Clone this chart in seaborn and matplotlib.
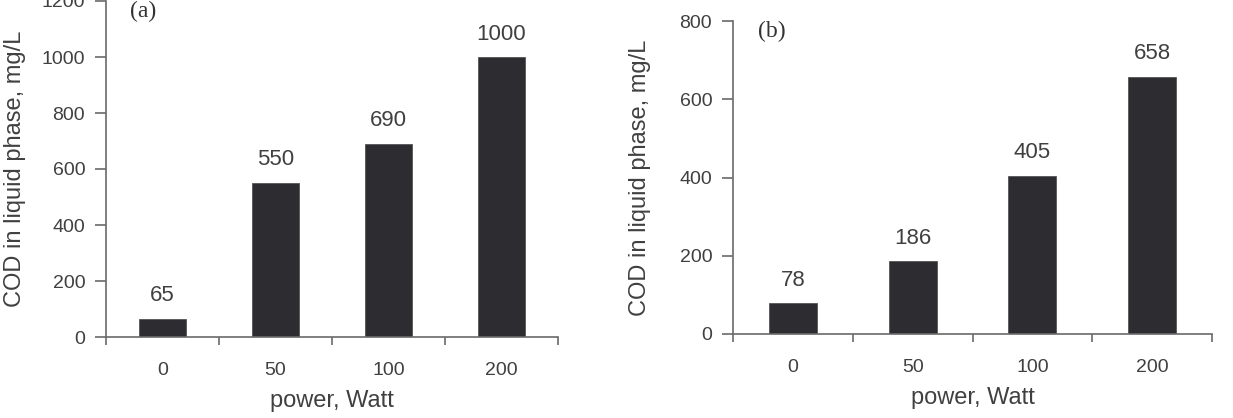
import matplotlib
matplotlib.use("Agg")
import matplotlib.pyplot as plt
import seaborn as sns
import pandas as pd
import numpy as np

power_labels = ["0", "50", "100", "200"]
cod_a = [65, 550, 690, 1000]
cod_b = [78, 186, 405, 658]

sns.set_theme(style="white")
plt.rcParams['font.family'] = ['Liberation Sans', 'DejaVu Sans']

text_color = "#404040"
spine_color = "#6a6a6a"
bar_color = "#2c2c31"

fig = plt.figure(figsize=(12.33, 4.18), dpi=100)
ax1 = fig.add_axes([106/1233, (418-337)/418, (558-106)/1233, 336/418])
ax2 = fig.add_axes([733/1233, (418-334)/418, (1212-733)/1233, 313/418])

panels = [
    (ax1, cod_a, 1200, [0, 200, 400, 600, 800, 1000, 1200], "(a)", 0.053, 1.0, 0.42, -0.201),
    (ax2, cod_b, 800, [0, 200, 400, 600, 800], "(b)", 0.052, 1.0, 0.40, -0.194),
]

for ax, vals, ymax, yticks, tag, tx, ty, bw, ylx in panels:
    df = pd.DataFrame({"power": power_labels, "cod": vals})
    sns.barplot(data=df, x="power", y="cod", order=power_labels, color=bar_color,
                width=bw, saturation=1, ax=ax, edgecolor="#555555", linewidth=0.6)
    ax.set_xlim(-0.5, len(power_labels) - 0.5)
    ax.set_ylim(0, ymax)
    ax.set_yticks(yticks)
    ax.set_yticklabels([str(t) for t in yticks])
    ax.set_xticks(range(len(power_labels)))
    ax.set_xticklabels(power_labels)
    ax.set_xticks(np.arange(-0.5, len(power_labels), 1.0), minor=True)
    ax.tick_params(axis="x", which="major", length=0, pad=18, labelsize=14, labelcolor=text_color)
    ax.tick_params(axis="x", which="minor", length=6, width=1.2, color=spine_color, direction="out", bottom=True)
    ax.tick_params(axis="y", which="major", length=8, width=1.2, color=spine_color, direction="out",
                   pad=7, labelsize=14, labelcolor=text_color, left=True)
    for s in ["top", "right"]:
        ax.spines[s].set_visible(False)
    for s in ["left", "bottom"]:
        ax.spines[s].set_color(spine_color)
        ax.spines[s].set_linewidth(1.2)
    ax.set_xlabel("power, Watt", fontsize=17, color=text_color, labelpad=8)
    ax.set_ylabel("COD in liquid phase, mg/L", fontsize=17, color=text_color, va="center")
    ax.yaxis.set_label_coords(ylx, 0.5)
    for i, v in enumerate(vals):
        ax.annotate(str(v), (i, v), xytext=(0, 9), textcoords="offset points",
                    ha="center", va="bottom", fontsize=16, color=text_color)
    ax.text(tx, ty, tag, transform=ax.transAxes, fontsize=17, color="#333333",
            family=["Liberation Serif", "DejaVu Serif"], ha="left", va="top")

fig.savefig("out.png", dpi=100)
